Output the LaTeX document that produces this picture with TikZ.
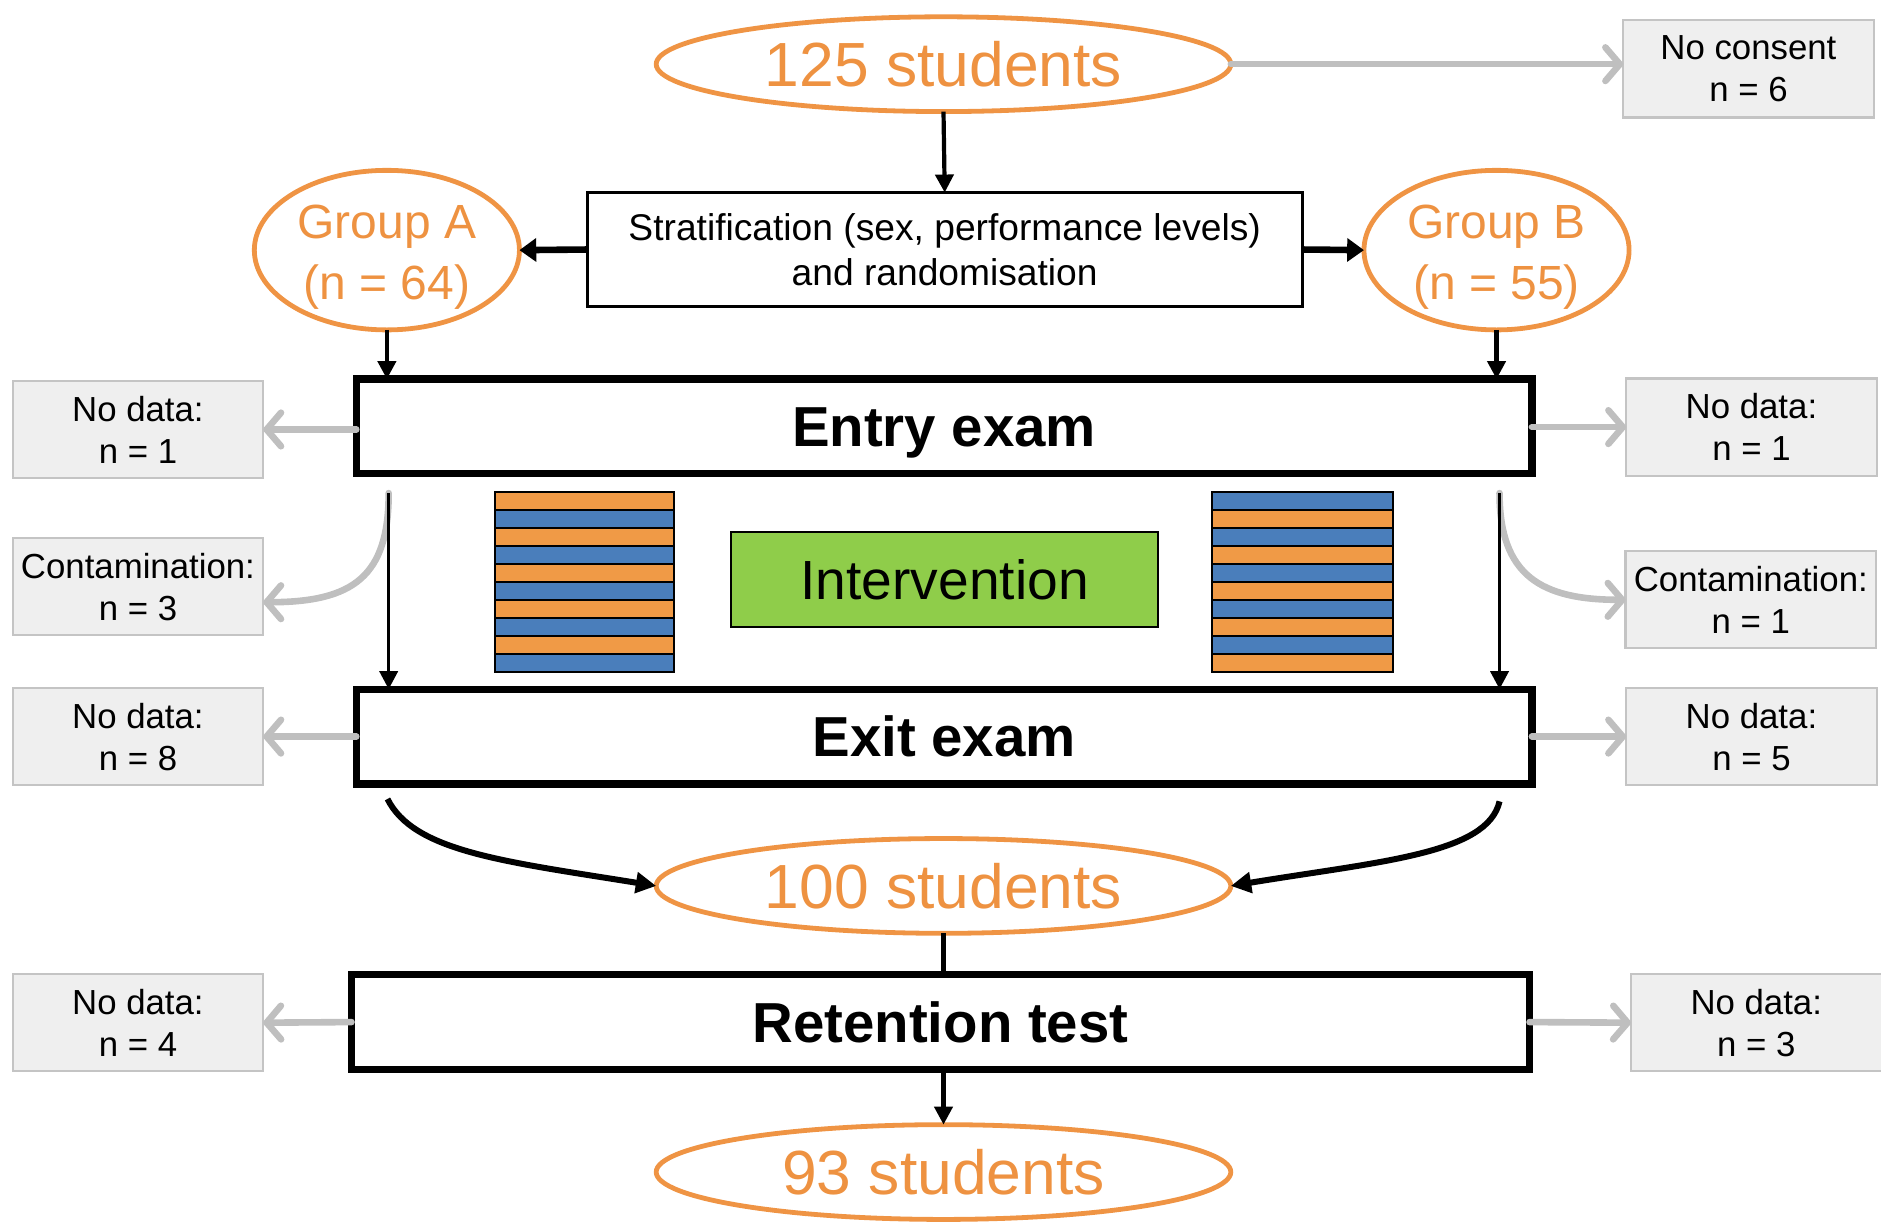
\documentclass[tikz,border=0pt]{standalone}
\usepackage{fontspec}
\setmainfont{Liberation Sans}
\usetikzlibrary{arrows.meta,shapes.geometric}

\definecolor{cohortline}{HTML}{EF9444}
\definecolor{cohorttext}{HTML}{EE9241}
\definecolor{lossfill}{HTML}{EFEFEF}
\definecolor{lossdraw}{HTML}{C4C4C4}
\definecolor{lossarrow}{HTML}{BFBFBF}
\definecolor{stripeorange}{HTML}{F09A46}
\definecolor{stripeblue}{HTML}{4A7EBB}
\definecolor{intervgreen}{HTML}{8FCD4A}

\tikzset{
  every node/.style={inner sep=0pt, outer sep=0pt},
  cohort/.style={ellipse, draw=cohortline, line width=4pt,
    minimum width=479pt, minimum height=79pt, text=cohorttext,
    text height=37pt, text depth=0pt,
    font=\fontsize{52}{60}\selectfont},
  groupnode/.style={ellipse, draw=cohortline, line width=4pt,
    minimum width=221pt, minimum height=133pt, text=cohorttext,
    align=center, text height=83pt, text depth=0pt,
    font=\fontsize{40}{51}\selectfont},
  lossbox/.style={rectangle, draw=lossdraw, fill=lossfill, line width=1.8pt,
    minimum width=209pt, minimum height=81pt, align=center,
    font=\fontsize{29}{35}\selectfont},
  exambox/.style={rectangle, draw=black, line width=6pt,
    minimum width=980pt, minimum height=79pt,
    text height=33.6pt, text depth=0pt,
    font=\bfseries\fontsize{47}{56}\selectfont},
  flow/.style={draw=black, line width=3.5pt, -{Triangle[length=15pt,width=15pt]}},
  flowthick/.style={draw=black, line width=5.5pt, -{Triangle[length=14pt,width=19pt]}},
  flowcurve/.style={draw=black, line width=5pt, -{Triangle[length=17pt,width=17pt]}},
  loss/.style={draw=lossarrow, line width=5.5pt, line cap=round,
    -{Straight Barb[length=12pt,width=28pt,round]}},
}

\begin{document}
\begin{tikzpicture}[x=1pt,y=-1pt]
\useasboundingbox (0,0) rectangle (1568,1018);

% cohort sizes
\node[cohort] (s125) at (786.5,53.5) {125 students};
\node[cohort] (s100) at (786.5,738.5) {100 students};
\node[cohort] (s93)  at (786.5,977) {93 students};

% randomisation
\node[rectangle, draw=black, line width=2.2pt, minimum width=596pt, minimum height=95pt,
      align=center, font=\fontsize{31}{38}\selectfont] (strat) at (787.5,208)
  {Stratification (sex, performance levels)\\and randomisation};
\node[groupnode] (grpA) at (322.5,208.5) {Group A\\(n = 64)};
\node[groupnode] (grpB) at (1247.5,208.5) {Group B\\(n = 55)};

% examinations
\node[exambox] (entry) at (787,355.5) {Entry exam};
\node[exambox] (exit) at (787,614) {Exit exam};
\node[exambox, minimum width=982pt] (ret) at (784,852) {Retention test};

% intervention
\node[rectangle, draw=black, line width=2pt, fill=intervgreen,
      minimum width=356pt, minimum height=79pt,
      text height=33pt, text depth=0pt,
      font=\fontsize{46}{54}\selectfont] (interv) at (787.5,483) {Intervention};

% alternating seating blocks
\foreach \i in {0,...,9}{
  \pgfmathsetmacro{\ytop}{410+15*\i}
  \ifodd\i
    \filldraw[fill=stripeblue, draw=black, line width=1.6pt] (413,\ytop) rectangle (562,\ytop+15);
    \filldraw[fill=stripeorange, draw=black, line width=1.6pt] (1010,\ytop) rectangle (1161,\ytop+15);
  \else
    \filldraw[fill=stripeorange, draw=black, line width=1.6pt] (413,\ytop) rectangle (562,\ytop+15);
    \filldraw[fill=stripeblue, draw=black, line width=1.6pt] (1010,\ytop) rectangle (1161,\ytop+15);
  \fi
}

% drop-outs
\node[lossbox] (nocons) at (1457.5,57.5) {No consent\\n = 6};
\node[lossbox] (ndEntryL) at (115,358) {No data:\\n = 1};
\node[lossbox] (ndEntryR) at (1460,356) {No data:\\n = 1};
\node[lossbox] (contL) at (115,489) {Contamination:\\n = 3};
\node[lossbox] (contR) at (1459.5,500) {Contamination:\\n = 1};
\node[lossbox] (ndExitL) at (115,614) {No data:\\n = 8};
\node[lossbox] (ndExitR) at (1460,614) {No data:\\n = 5};
\node[lossbox] (ndRetL) at (115,852.5) {No data:\\n = 4};
\node[lossbox] (ndRetR) at (1464,852.5) {No data:\\n = 3};

% free ends of the intervention-phase connectors
\coordinate (topL) at (324,411);
\coordinate (topR) at (1250,411);
\coordinate (exL) at (323,666);
\coordinate (exR) at (1250,668);

% main flow
\draw[flow] (s125.south) -- (strat.north);
\draw[flowthick] (strat.west) -- (grpA.east);
\draw[flowthick] (strat.east) -- (grpB.west);
\draw[flow] (grpA.south) -- (grpA.south |- entry.north);
\draw[flow] (grpB.south) -- (grpB.south |- entry.north);

% losses
\draw[loss] (s125.east) -- (s125.east -| nocons.west);
\draw[loss] (ndEntryL.east -| entry.west) -- (ndEntryL.east);
\draw[loss] (ndEntryR.west -| entry.east) -- (ndEntryR.west);
\draw[loss] (topL) .. controls (324,480) and (295,502) .. ([yshift=-13pt]contL.east);
\draw[loss] (topR) .. controls (1250,480) and (1285,500) .. (contR.west);
\draw[loss] (exit.west) -- (ndExitL.east);
\draw[loss] (exit.east) -- (ndExitR.west);
\draw[loss] (ret.west) -- (ndRetL.east);
\draw[loss] (ret.east) -- (ndRetR.west);

% intervention phase
\draw[flow, line width=3pt] (topL) -- (topL |- exit.north);
\draw[flow, line width=3pt] (topR) -- (topR |- exit.north);

% towards the cohort after the exit exam
\draw[flowcurve] (exL) .. controls (345,710) and (420,718) .. (s100.west);
\draw[flowcurve] (exR) .. controls (1240,712) and (1150,718) .. (s100.east);

% retention
\draw[draw=black, line width=3.5pt] (s100.south) -- (s100.south |- ret.north);
\draw[flow] (s93.north |- ret.south) -- (s93.north);
\end{tikzpicture}
\end{document}
